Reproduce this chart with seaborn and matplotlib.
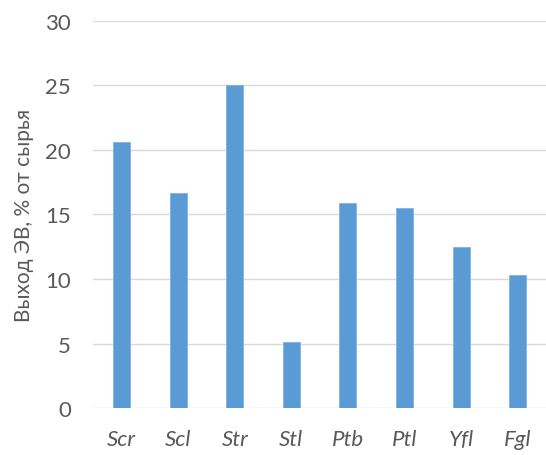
import matplotlib
matplotlib.use("Agg")
import matplotlib.pyplot as plt
import seaborn as sns
import pandas as pd

categories = ["Scr", "Scl", "Str", "Stl", "Ptb", "Ptl", "Yfl", "Fgl"]
values = [20.6, 16.7, 25.0, 5.1, 15.9, 15.5, 12.5, 10.3]
y_ticks = [0, 5, 10, 15, 20, 25, 30]
y_label = "Выход ЭВ, % от сырья"

sns.set_theme(style="white")
plt.rcParams["font.family"] = ["Lato", "DejaVu Sans"]

df = pd.DataFrame({"sample": categories, "yield": values})

fig = plt.figure(figsize=(5.46, 4.56), dpi=100)
ax = fig.add_axes([0.171, 0.103, 0.829, 0.849])

sns.barplot(data=df, x="sample", y="yield", color="#5B9BD5", saturation=1,
            width=0.3, ax=ax, zorder=3, edgecolor="#7FB2E0", linewidth=0.6)

ax.set_ylim(0, 30)
ax.set_yticks(y_ticks)
ax.set_xlim(-0.5, len(categories) - 0.5)
ax.yaxis.grid(True, color="#D9D9D9", linewidth=1.0, zorder=0)
ax.xaxis.grid(False)
for s in ax.spines.values():
    s.set_visible(False)

ax.tick_params(axis="both", length=0)
ax.tick_params(axis="y", labelsize=16, labelcolor="#595959", pad=16)
ax.tick_params(axis="x", labelsize=16, labelcolor="#595959", pad=15)
for lbl in ax.get_xticklabels():
    lbl.set_fontstyle("italic")

ax.set_xlabel("")
ax.set_ylabel(y_label, fontsize=15, color="#595959", labelpad=8)

fig.savefig("out.png", dpi=100)
